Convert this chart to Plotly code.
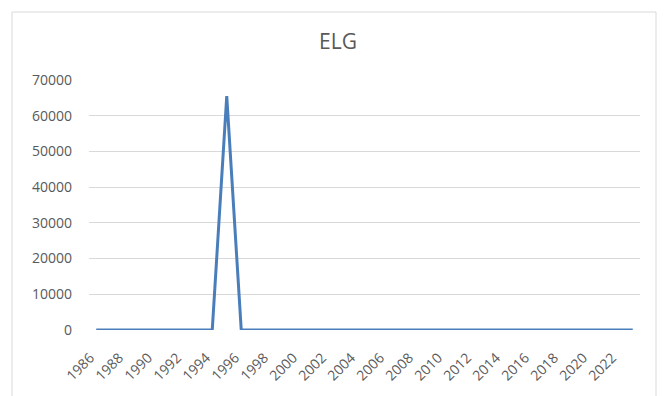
import plotly.graph_objects as go

years = list(range(1986, 2024))
values = [0] * len(years)
values[years.index(1995)] = 65500
tick_years = list(range(1986, 2023, 2))
tick_labels = [str(y) for y in tick_years]
y_ticks = list(range(0, 70001, 10000))

W, H = 668, 396
L, R, T, B = 89, 28, 80, 66
pw, ph = W - L - R, H - T - B

def px(xp):
    return (xp - L) / pw

def py(yp):
    return (H - B - yp) / ph

fig = go.Figure()
fig.add_trace(go.Scatter(
    x=years, y=values, mode="lines",
    line=dict(color="#4a7ebb", width=3),
    hoverinfo="x+y",
))

fig.update_layout(
    width=W, height=H,
    margin=dict(l=L, r=R, t=T, b=B, autoexpand=False),
    paper_bgcolor="white", plot_bgcolor="white",
    showlegend=False,
    title=dict(text="ELG", x=338 / W, xref="container", xanchor="center",
               y=1 - 42 / H, yanchor="middle",
               font=dict(family="Open Sans", size=21, color="#595959")),
    xaxis=dict(range=[1985.5, 2023.5], tickmode="array",
               tickvals=tick_years, ticktext=tick_labels,
               tickangle=-45, showgrid=False, zeroline=False,
               showline=False, ticks="", automargin=False,
               ticklabelstandoff=16, ticklabelshift=-6,
               tickfont=dict(family="Open Sans", size=14, color="#595959")),
    yaxis=dict(range=[0, 70000], tickmode="array", tickvals=y_ticks,
               ticktext=[str(v) for v in y_ticks],
               showgrid=True, gridcolor="#d9d9d9", gridwidth=1,
               zeroline=False, showline=False, ticks="", automargin=False,
               ticklabelstandoff=16,
               tickfont=dict(family="Open Sans", size=14, color="#595959")),
    shapes=[dict(type="path", xref="paper", yref="paper",
                 path=f"M {px(12)} {py(402)} L {px(12)} {py(12)} L {px(656)} {py(12)} L {px(656)} {py(402)}",
                 line=dict(color="#d9d9d9", width=1), layer="below")],
)

fig.write_html("out.html", config={"displayModeBar": False},
               post_script="document.body.style.margin='0';document.body.style.overflow='hidden';")
